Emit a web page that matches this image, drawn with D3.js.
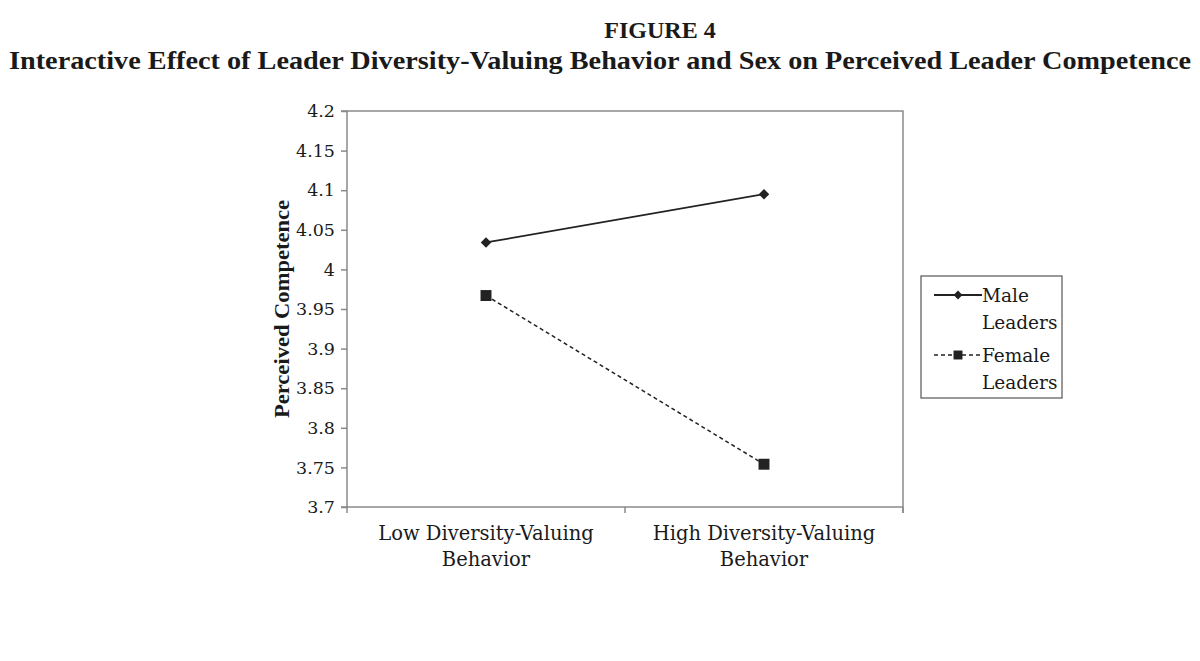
<!DOCTYPE html>
<html>
<head>
<meta charset="utf-8">
<script src="https://cdn.jsdelivr.net/npm/d3@7"></script>
<style>
  body { margin: 0; background: #fff; }
  text { font-family: "DejaVu Serif", "Liberation Serif", serif; fill: #1a1a1a; }
</style>
</head>
<body>
<div id="graph"></div>
<script>
const categories = ['Low Diversity-Valuing Behavior', 'High Diversity-Valuing Behavior'];
const catLines = [['Low Diversity-Valuing', 'Behavior'], ['High Diversity-Valuing', 'Behavior']];
const maleValues = [4.034, 4.095];
const femaleValues = [3.967, 3.754];
const yTicks = [3.7, 3.75, 3.8, 3.85, 3.9, 3.95, 4, 4.05, 4.1, 4.15, 4.2];
const seriesNames = [['Male', 'Leaders'], ['Female', 'Leaders']];

const w = 1200;
const h = 661;
const plot = {left: 347, right: 903, top: 111, bottom: 507};
const axisGray = '#8a8a8a';
const ink = '#222';

const svg = d3.select('#graph')
  .append('svg')
  .attr('width', w)
  .attr('height', h);

// titles
svg.append('text')
  .attr('x', 660).attr('y', 38)
  .attr('text-anchor', 'middle')
  .style('font-weight', 'bold')
  .style('font-size', '24px')
  .style('font-family', '"Liberation Serif", serif')
  .text('FIGURE 4');

svg.append('text')
  .attr('x', 9).attr('y', 69)
  .attr('textLength', 1182)
  .attr('lengthAdjust', 'spacingAndGlyphs')
  .style('font-weight', 'bold')
  .style('font-size', '26px')
  .style('font-family', '"Liberation Serif", serif')
  .text('Interactive Effect of Leader Diversity-Valuing Behavior and Sex on Perceived Leader Competence');

const xScale = d3.scaleBand().domain(categories).range([plot.left, plot.right]);
const yScale = d3.scaleLinear().domain([3.7, 4.2]).range([plot.bottom, plot.top]);

// frame (top and right)
svg.append('path')
  .attr('d', `M${plot.left},${plot.top}H${plot.right}V${plot.bottom + 6}`)
  .attr('fill', 'none')
  .attr('stroke', axisGray)
  .attr('stroke-width', 1.5);

// y axis
const yAxis = d3.axisLeft(yScale)
  .tickValues(yTicks)
  .tickFormat(d => d3.format('')(+d.toFixed(2)))
  .tickSize(6)
  .tickPadding(6);
const gy = svg.append('g')
  .attr('id', 'y-axis')
  .attr('transform', `translate(${plot.left},0)`)
  .call(yAxis);
gy.select('.domain').attr('stroke', axisGray).attr('stroke-width', 1.5)
  .attr('d', `M-6,${plot.top}H0V${plot.bottom}H-6`);
gy.selectAll('.tick line').attr('stroke', axisGray).attr('stroke-width', 1.5);
gy.selectAll('.tick text')
  .style('font-size', '17.5px')
  .style('font-family', '"DejaVu Serif", serif')
  .attr('fill', '#1a1a1a');

// x axis
const gx = svg.append('g')
  .attr('id', 'x-axis')
  .attr('transform', `translate(0,${plot.bottom})`);
gx.append('line')
  .attr('x1', plot.left).attr('x2', plot.right)
  .attr('stroke', axisGray).attr('stroke-width', 1.5);
const xTickPos = [plot.left].concat(categories.map(c => xScale(c) + xScale.bandwidth()));
gx.selectAll('.xtick')
  .data(xTickPos)
  .enter()
  .append('line')
  .attr('class', 'xtick')
  .attr('x1', d => d).attr('x2', d => d)
  .attr('y1', 0).attr('y2', 6)
  .attr('stroke', axisGray).attr('stroke-width', 1.5);
const xl = gx.selectAll('.xlab')
  .data(categories)
  .enter()
  .append('text')
  .attr('class', 'xlab')
  .attr('text-anchor', 'middle')
  .style('font-size', '19.5px');
xl.each(function (d, i) {
  const cx = xScale(d) + xScale.bandwidth() / 2;
  catLines[i].forEach((ln, j) => {
    d3.select(this).append('tspan')
      .attr('x', cx)
      .attr('y', 33 + j * 26)
      .text(ln);
  });
});

// y axis label
svg.append('text')
  .attr('transform', `translate(289,${(plot.top + plot.bottom) / 2}) rotate(-90)`)
  .attr('text-anchor', 'middle')
  .attr('textLength', 218)
  .attr('lengthAdjust', 'spacingAndGlyphs')
  .style('font-weight', 'bold')
  .style('font-size', '21px')
  .style('font-family', '"Liberation Serif", serif')
  .text('Perceived Competence');

// series
const xPos = c => xScale(c) + xScale.bandwidth() / 2;
const line = d3.line().x((d, i) => xPos(categories[i])).y(d => yScale(d));

svg.append('path')
  .datum(maleValues)
  .attr('d', line)
  .attr('fill', 'none')
  .attr('stroke', ink)
  .attr('stroke-width', 1.8);

svg.append('path')
  .datum(femaleValues)
  .attr('d', line)
  .attr('fill', 'none')
  .attr('stroke', ink)
  .attr('stroke-width', 1.5)
  .attr('stroke-dasharray', '4,3');

const diamond = d3.symbol().type(d3.symbolDiamond2).size(70);
const square = d3.symbol().type(d3.symbolSquare).size(120);

svg.selectAll('.male-pt')
  .data(maleValues)
  .enter()
  .append('path')
  .attr('class', 'male-pt')
  .attr('d', diamond)
  .attr('transform', (d, i) => `translate(${xPos(categories[i])},${yScale(d)})`)
  .attr('fill', ink);

svg.selectAll('.female-pt')
  .data(femaleValues)
  .enter()
  .append('path')
  .attr('class', 'female-pt')
  .attr('d', square)
  .attr('transform', (d, i) => `translate(${xPos(categories[i])},${yScale(d)})`)
  .attr('fill', ink);

// legend
const legend = svg.append('g').attr('id', 'legend');
legend.append('rect')
  .attr('x', 921).attr('y', 276)
  .attr('width', 141).attr('height', 122)
  .attr('fill', 'none')
  .attr('stroke', '#555')
  .attr('stroke-width', 1.2);

const legItems = legend.selectAll('.legend-item')
  .data(seriesNames)
  .enter()
  .append('g')
  .attr('class', 'legend-item')
  .attr('transform', (d, i) => `translate(0,${295 + i * 60})`);

legItems.append('line')
  .attr('x1', 934).attr('x2', 982)
  .attr('stroke', ink)
  .attr('stroke-width', (d, i) => i ? 1.5 : 1.8)
  .attr('stroke-dasharray', (d, i) => i ? '4,3' : null);

legItems.append('path')
  .attr('d', (d, i) => i ? d3.symbol().type(d3.symbolSquare).size(80)() : d3.symbol().type(d3.symbolDiamond2).size(50)())
  .attr('transform', 'translate(958,0)')
  .attr('fill', ink);

legItems.each(function (d) {
  const t = d3.select(this).append('text')
    .style('font-size', '18.5px');
  d.forEach((ln, j) => {
    t.append('tspan')
      .attr('x', 982)
      .attr('y', 7 + j * 27)
      .text(ln);
  });
});
</script>
</body>
</html>
